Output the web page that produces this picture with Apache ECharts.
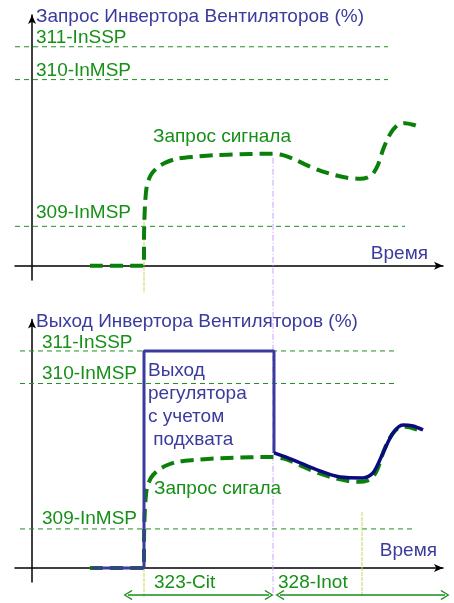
<!DOCTYPE html>
<html><head><meta charset="utf-8">
<script src="https://cdn.jsdelivr.net/npm/echarts@6/dist/echarts.min.js"></script>
<style>html,body{margin:0;padding:0;background:#fff}#c{width:454px;height:603px}</style>
</head><body><div id="c"></div>
<script>
// ---- data (time units, level in % of 311-InSSP) ----
const requestTime  = [5.8, 11.2, 11.2, 11.3, 11.5, 11.9, 12.5, 13.3, 14.5, 16.3, 18.3, 20.8, 22.8, 24.1, 25.1, 26.1, 27.3, 28.6, 30.1, 31.5, 32.8, 33.5, 34.1, 34.6, 35.1, 35.6, 36.1, 36.6, 37.3, 38.1, 39.0];
const requestLevel = [0, 0, 11.9, 27.9, 37.0, 41.6, 44.7, 47.0, 48.9, 49.8, 50.5, 50.9, 51.1, 51.1, 50.5, 48.9, 46.3, 43.8, 41.6, 40.2, 39.7, 40.2, 42.0, 46.1, 53.0, 58.4, 62.1, 64.4, 65.1, 64.4, 63.0];
const outputStepTime  = [6.0, 11.2, 11.2, 24.2, 24.2];
const outputStepLevel = [0, 0, 100, 100, 53.0];
const outputTrackTime  = [24.2, 26.1, 28.5, 30.8, 33.1, 34.1, 35.1, 36.1, 37.1, 38.1, 39.1];
const outputTrackLevel = [53.0, 49.8, 45.2, 41.9, 41.5, 43.8, 53.0, 62.2, 65.9, 65.4, 63.6];
const thresholdNames  = ['311-InSSP', '310-InMSP', '309-InMSP'];
const thresholdLevels = [100, 85, 18];
const thresholdStartTop = [-1.7, -1.7, -1.7];
const thresholdEndTop   = [35.6, 35.6, 37.3];
const thresholdStartBottom = [-1.2, -1.2, -1.2];
const thresholdEndBottom   = [36.3, 36.3, 38.0];
const requestStartTime = 11.2;
const switchTime = 24.1;
const inotEndTime = 33.0;
const citSpan  = [9.6, 23.7];
const inotSpan = [24.8, 41.3];
const spanLevel = -12.4;
const axisLabels = ['Время', 'Время'];
const titles = ['Запрос Инвертора Вентиляторов (%)', 'Выход Инвертора Вентиляторов (%)'];

// ---- styles ----
const BLUE = '#3b3b9d', NAVY = '#0b0b80', GREEN = '#169016', GDARK = '#0a7f0a';
const FONT = '19px "Liberation Sans", Arial, sans-serif';
const zip = (xs, ys) => xs.map((x, i) => [x, ys[i]]);

function axes(gi) {
  const common = {
    gridIndex: gi, type: 'value',
    axisTick: {show: false}, axisLabel: {show: false}, splitLine: {show: false},
    axisLine: {onZero: true, symbol: ['none', 'arrow'], symbolSize: [6, 9], lineStyle: {color: '#000', width: 1.5}}
  };
  return {
    x: Object.assign({min: -1.7, max: 41.1}, common),
    y: Object.assign({min: -6.5, max: 114.5}, common)
  };
}
const a0 = axes(0), a1 = axes(1);

const series = [];
function line(gi, data, style, extra) {
  series.push(Object.assign({
    type: 'line', xAxisIndex: gi, yAxisIndex: gi, data: data, symbol: 'none',
    clip: false, silent: true, lineStyle: style, z: 2
  }, extra || {}));
}
const thinDash = {color: '#1f8f1f', width: 1, type: [5, 4]};
thresholdLevels.forEach((lv, i) => {
  line(0, [[thresholdStartTop[i], lv], [thresholdEndTop[i], lv]], thinDash);
  line(1, [[thresholdStartBottom[i], lv], [thresholdEndBottom[i], lv]], thinDash);
});
const guideStyle = {color: '#c3dc4f', width: 1, type: [4, 1]};
const purpleStyle = {color: '#c8a2ff', width: 1, type: [6, 2, 1, 2]};
// top guides
line(0, [[requestStartTime, 26.9], [requestStartTime, -12.3]], guideStyle);
line(0, [[switchTime, 49.3], [switchTime, -151]], purpleStyle);
// bottom guides
line(1, [[requestStartTime, 0], [requestStartTime, -13.4]], guideStyle);
line(1, [[inotEndTime, 25.8], [inotEndTime, -13.4]], guideStyle);
// double-headed span arrows
const CHEVRON = 'path://M0,0 L5,9 L4,10 L0,2.5 L-4,10 L-5,9 Z';
function span(s) {
  line(1, [
    {value: [s[0], spanLevel], symbol: CHEVRON, symbolRotate: 90},
    {value: [s[1], spanLevel], symbol: CHEVRON, symbolRotate: -90}
  ], {color: '#1a8c1a', width: 1.5}, {
    symbol: CHEVRON, symbolSize: [10, 9], showSymbol: true, showAllSymbol: true,
    itemStyle: {color: '#1a8c1a'}
  });
}
span(citSpan);
span(inotSpan);
// request curves
const reqStyle = {color: GDARK, width: 4, type: [13, 7]};
line(0, zip(requestTime, requestLevel), reqStyle, {smooth: 0.25, z: 3});
line(1, zip(requestTime, requestLevel), reqStyle, {smooth: 0.25, z: 3});
// output
line(1, zip(outputStepTime, outputStepLevel), {color: BLUE, width: 3}, {z: 4});
line(1, zip(outputTrackTime, outputTrackLevel), {color: NAVY, width: 3.5}, {smooth: 0.3, z: 5});

function txt(x, y, text, fill, extra) {
  return {type: 'text', silent: true, z: 10, style: Object.assign({x: x, y: y, text: text, fill: fill, font: FONT, verticalAlign: 'middle'}, extra || {})};
}
const graphic = [
  txt(36, 17, titles[0], BLUE),
  txt(36, 38, thresholdNames[0], GREEN),
  txt(36, 70.5, thresholdNames[1], GREEN),
  txt(36, 213, thresholdNames[2], GREEN),
  txt(153, 136.5, 'Запрос сигнала', GREEN),
  txt(428, 253.5, axisLabels[0], BLUE, {align: 'right'}),
  txt(36, 321.5, titles[1], BLUE),
  txt(42, 342.3, thresholdNames[0], GREEN),
  txt(42, 373.7, thresholdNames[1], GREEN),
  txt(42, 518.3, thresholdNames[2], GREEN),
  txt(148, 359, 'Выход\nрегулятора\nс учетом\n подхвата', BLUE, {verticalAlign: 'top', lineHeight: 23}),
  txt(154, 488.3, 'Запрос сигала', GREEN),
  txt(437, 550.7, axisLabels[1], BLUE, {align: 'right'}),
  txt(154, 583, '323-Cit', GREEN),
  txt(278, 583, '328-Inot', GREEN)
];

const chart = echarts.init(document.getElementById('c'), null, {renderer: 'canvas'});
chart.setOption({
  animation: false,
  backgroundColor: '#fff',
  grid: [
    {left: 15, top: 15, width: 428, height: 265},
    {left: 15, top: 319.5, width: 428, height: 262.6}
  ],
  xAxis: [a0.x, a1.x],
  yAxis: [a0.y, a1.y],
  series: series,
  graphic: graphic
});
</script></body></html>
